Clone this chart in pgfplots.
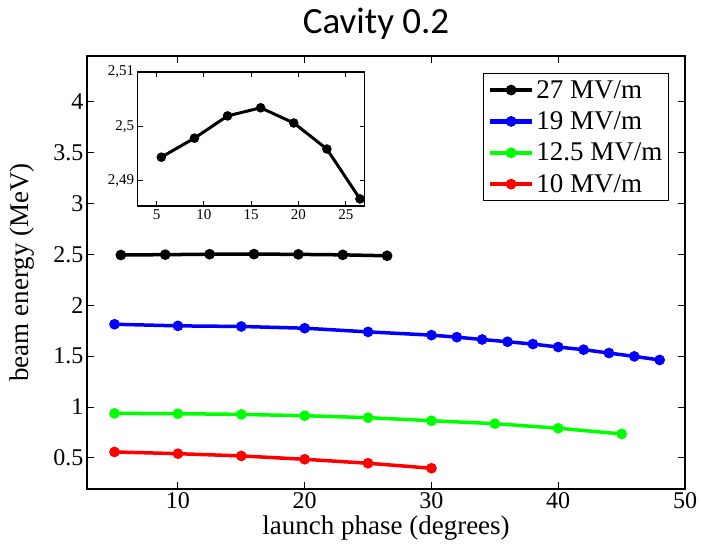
\documentclass[border=0pt]{standalone}
\usepackage{fontspec}
\setmainfont{Liberation Serif}
\newfontfamily\titlefont{Carlito}
\usepackage{pgfplots}
\pgfplotsset{compat=1.18}
\begin{document}
\begin{tikzpicture}[x=1bp,y=1bp]
\path[use as bounding box] (0,0) rectangle (702,546);
\node[font=\titlefont\fontsize{37bp}{42bp}\selectfont] at (376,522) {Cavity 0.2};
\begin{axis}[
  at={(87bp,57bp)}, anchor=south west, scale only axis,
  width=598bp, height=433bp,
  xmin=2.83, xmax=50, ymin=0.195, ymax=4.45,
  xtick={10,20,30,40,50}, ytick={0.5,1,1.5,2,2.5,3,3.5,4},
  /pgf/number format/assume math mode=true,
  tick align=inside, major tick length=7bp,
  every tick/.style={black, line width=1bp},
  axis line style={line width=1.5bp},
  ticklabel style={font=\fontsize{24bp}{28bp}\selectfont},
  xlabel={launch phase (degrees)},
  ylabel={beam energy (MeV)},
  label style={font=\fontsize{27bp}{31bp}\selectfont},
  xlabel style={at={(axis description cs:0.5,-0.09)}, anchor=center},
  ylabel style={at={(axis description cs:-0.109,0.5)}, anchor=center},
  legend style={at={(0.973,0.961)}, anchor=north east, draw=black, line width=1bp,
    font=\fontsize{27bp}{30bp}\selectfont, inner xsep=4bp, inner ysep=5bp, row sep=8bp},
  legend cell align=left,
  legend image code/.code={\draw[mark repeat=2,mark phase=2,#1,line width=4.5bp,mark size=3bp] plot coordinates {(0bp,0bp) (21bp,0bp) (42bp,0bp)};},
  every axis plot/.append style={line width=3.5bp, mark=*, mark size=3.5bp},
]
\addplot[black] coordinates {(5.5,2.4943) (9,2.4978) (12.5,2.5019) (16,2.5034) (19.5,2.5006) (23,2.4958) (26.5,2.4866)};
\addlegendentry{27 MV/m}
\addplot[blue] coordinates {(5,1.814) (10,1.798) (15,1.792) (20,1.775) (25,1.739) (30,1.707) (32,1.687) (34,1.664) (36,1.642) (38,1.619) (40,1.590) (42,1.564) (44,1.531) (46,1.498) (48,1.463)};
\addlegendentry{19 MV/m}
\addplot[green] coordinates {(5,0.938) (10,0.935) (15,0.928) (20,0.915) (25,0.896) (30,0.866) (35,0.837) (40,0.792) (45,0.736)};
\addlegendentry{12.5 MV/m}
\addplot[red] coordinates {(5,0.559) (10,0.542) (15,0.520) (20,0.487) (25,0.448) (30,0.399)};
\addlegendentry{10 MV/m}
\end{axis}
\begin{axis}[
  at={(137.7bp,340bp)}, anchor=south west, scale only axis,
  width=227bp, height=134bp,
  xmin=3, xmax=27, ymin=2.4853, ymax=2.51,
  xtick={5,10,15,20,25}, ytick={2.49,2.5,2.51},
  /pgf/number format/assume math mode=true,
  yticklabel style={/pgf/number format/.cd, use comma, fixed, precision=2},
  tick align=inside, major tick length=5bp,
  every tick/.style={black, line width=1bp},
  axis line style={line width=1.5bp},
  axis background/.style={fill=white},
  ticklabel style={font=\fontsize{15bp}{17bp}\selectfont},
]
\addplot[black, line width=3bp, mark=*, mark size=3.2bp] coordinates {(5.5,2.4943) (9,2.4978) (12.5,2.5019) (16,2.5034) (19.5,2.5006) (23,2.4958) (26.5,2.4866)};
\end{axis}
\end{tikzpicture}
\end{document}
